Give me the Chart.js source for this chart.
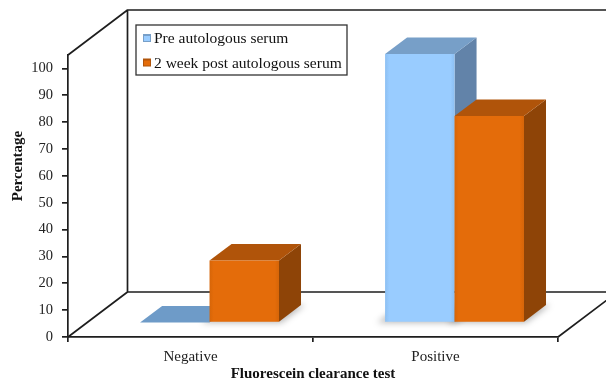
<!DOCTYPE html>
<html><head><meta charset="utf-8">
<script src="https://cdn.jsdelivr.net/npm/chart.js@4"></script>
<style>html,body{margin:0;padding:0;background:#fff}#wrap{width:606px;height:383px}</style>
</head><body><div id="wrap"><canvas id="c" width="606" height="383"></canvas></div>
<script>
// Fluorescein clearance test results, before and after autologous serum
const categories = ['Negative', 'Positive'];
const preSerum = [0, 100];
const postSerum = [23.1, 76.9];
const seriesNames = ['Pre autologous serum', '2 week post autologous serum'];
const yTicks = [0, 10, 20, 30, 40, 50, 60, 70, 80, 90, 100];
const yAxisTitle = 'Percentage';
const xAxisTitle = 'Fluorescein clearance test';

// oblique projection of the floor / back wall
const DEPTH_X = 59.5, DEPTH_Y = -45;
const BAR_FRONT = 0.32;   // bar front plane, as a fraction of floor depth
const BAR_DEPTH = 0.37;   // bar thickness, as a fraction of floor depth

const faces = [
  { front: '#99CCFF', frontEdge: '#8CBFF2', top: '#779FC8', side: '#6283A9', flat: '#6E9BC8' },
  { front: '#E46C0A', frontEdge: '#D66508', top: '#B0540A', side: '#8E4407', flat: '#B0540A' }
];
const FRAME = '#1e1e1e';
const SERIF = '"Liberation Serif", "Times New Roman", serif';

function poly(ctx, pts, fill) {
  ctx.beginPath();
  ctx.moveTo(pts[0][0], pts[0][1]);
  for (let i = 1; i < pts.length; i++) ctx.lineTo(pts[i][0], pts[i][1]);
  ctx.closePath();
  ctx.fillStyle = fill;
  ctx.fill();
}

const box3d = {
  id: 'box3d',
  beforeDatasetsDraw(chart) {
    const ctx = chart.ctx;
    const a = chart.chartArea;
    const ybase = chart.scales.y.getPixelForValue(0);
    ctx.save();
    // frame: back wall and floor
    ctx.strokeStyle = FRAME;
    ctx.lineWidth = 1.7;
    ctx.lineJoin = 'round';
    ctx.beginPath();
    ctx.moveTo(a.left, a.top); ctx.lineTo(a.left + DEPTH_X, a.top + DEPTH_Y);
    ctx.lineTo(a.right + DEPTH_X + 40, a.top + DEPTH_Y);
    ctx.moveTo(a.left + DEPTH_X, a.top + DEPTH_Y); ctx.lineTo(a.left + DEPTH_X, ybase + DEPTH_Y);
    ctx.lineTo(a.right + DEPTH_X, ybase + DEPTH_Y);
    ctx.lineTo(a.right, ybase);
    ctx.moveTo(a.left, ybase); ctx.lineTo(a.left + DEPTH_X, ybase + DEPTH_Y);
    ctx.stroke();

    const ox = DEPTH_X * BAR_FRONT, oy = DEPTH_Y * BAR_FRONT;
    const dx = DEPTH_X * BAR_DEPTH, dy = DEPTH_Y * BAR_DEPTH;

    // soft floor shadows
    chart.data.datasets.forEach((ds, di) => {
      chart.getDatasetMeta(di).data.forEach((el) => {
        if (Math.abs(el.base - el.y) < 1) return;
        const L = el.x - el.width / 2 + ox, R = el.x + el.width / 2 + ox, B = el.base + oy;
        ctx.save();
        ctx.filter = 'blur(3px)';
        poly(ctx, [[L - 8, B + 1], [R + 2, B + 1], [R + dx + 4, B + dy], [L + dx - 6, B + dy]], 'rgba(0,0,0,0.28)');
        ctx.restore();
      });
    });

    // bars
    const n = chart.data.labels.length;
    for (let j = 0; j < n; j++) {
      chart.data.datasets.forEach((ds, di) => {
        const el = chart.getDatasetMeta(di).data[j];
        const f = faces[di];
        const L = el.x - el.width / 2 + ox, R = el.x + el.width / 2 + ox;
        const T = el.y + oy, B = el.base + oy;
        if (B - T < 1) {
          poly(ctx, [[L, B], [R, B], [R + dx, B + dy], [L + dx, B + dy]], f.flat);
          return;
        }
        poly(ctx, [[R, T], [R + dx, T + dy], [R + dx, B + dy], [R, B]], f.side);
        poly(ctx, [[L, T], [R, T], [R + dx, T + dy], [L + dx, T + dy]], f.top);
        const g = ctx.createLinearGradient(L, 0, R, 0);
        g.addColorStop(0, f.frontEdge);
        g.addColorStop(0.06, f.front);
        g.addColorStop(0.94, f.front);
        g.addColorStop(1, f.frontEdge);
        poly(ctx, [[L, T], [R, T], [R, B], [L, B]], g);
      });
    }
    ctx.restore();
    return false;
  },
  afterDraw(chart) {
    const ctx = chart.ctx;
    const a = chart.chartArea;
    ctx.save();
    // y axis title
    ctx.translate(18.5, 166);
    ctx.rotate(-Math.PI / 2);
    ctx.font = 'bold 15px ' + SERIF;
    ctx.fillStyle = '#111';
    ctx.textAlign = 'center';
    ctx.textBaseline = 'middle';
    ctx.fillText(yAxisTitle, 0, 0);
    ctx.restore();

    // legend
    ctx.save();
    const lx = a.left + 68, ly = 25, lw = 211, lh = 50;
    ctx.fillStyle = '#fff';
    ctx.fillRect(lx, ly, lw, lh);
    ctx.strokeStyle = '#333';
    ctx.lineWidth = 1.3;
    ctx.strokeRect(lx, ly, lw, lh);
    ctx.font = '15.5px ' + SERIF;
    ctx.textBaseline = 'middle';
    ctx.textAlign = 'left';
    chart.data.datasets.forEach((ds, i) => {
      const cy = ly + 13 + i * 24.5;
      const f = faces[i];
      ctx.fillStyle = f.top;
      ctx.fillRect(lx + 7, cy - 4, 8, 8);
      ctx.fillStyle = f.front;
      ctx.fillRect(lx + 8, cy - 2, 6, 5);
      ctx.fillStyle = '#111';
      ctx.fillText(ds.label, lx + 18, cy + 1);
    });
    ctx.restore();
  }
};

new Chart(document.getElementById('c'), {
  type: 'bar',
  data: {
    labels: categories,
    datasets: [
      { label: seriesNames[0], data: preSerum, backgroundColor: faces[0].front },
      { label: seriesNames[1], data: postSerum, backgroundColor: faces[1].front }
    ]
  },
  options: {
    responsive: false,
    animation: false,
    devicePixelRatio: 1,
    layout: { padding: { top: 55, right: 48, left: 0, bottom: 0 } },
    datasets: { bar: { categoryPercentage: 0.567, barPercentage: 1 } },
    plugins: { legend: { display: false }, tooltip: { enabled: false } },
    scales: {
      x: {
        afterFit(s) { s.height = 46; },
        grid: { display: true, drawOnChartArea: false, tickLength: 5, color: FRAME, lineWidth: 1.7 },
        border: { display: true, color: FRAME, width: 1.7 },
        ticks: { padding: 6, color: '#222', font: { family: SERIF, size: 15 } },
        title: { display: true, text: xAxisTitle, color: '#111', padding: { top: 0, bottom: 0 },
                 font: { family: SERIF, size: 15, weight: 'bold' } }
      },
      y: {
        min: 0, max: 105,
        afterFit(s) { s.width = 68; },
        afterBuildTicks(s) { s.ticks = yTicks.map(v => ({ value: v })); },
        grid: { display: true, drawOnChartArea: false, tickLength: 6, color: FRAME, lineWidth: 1.7 },
        border: { display: true, color: FRAME, width: 1.7 },
        ticks: { padding: 9, color: '#222', font: { family: SERIF, size: 14.5 } }
      }
    }
  },
  plugins: [box3d]
});
</script></body></html>
